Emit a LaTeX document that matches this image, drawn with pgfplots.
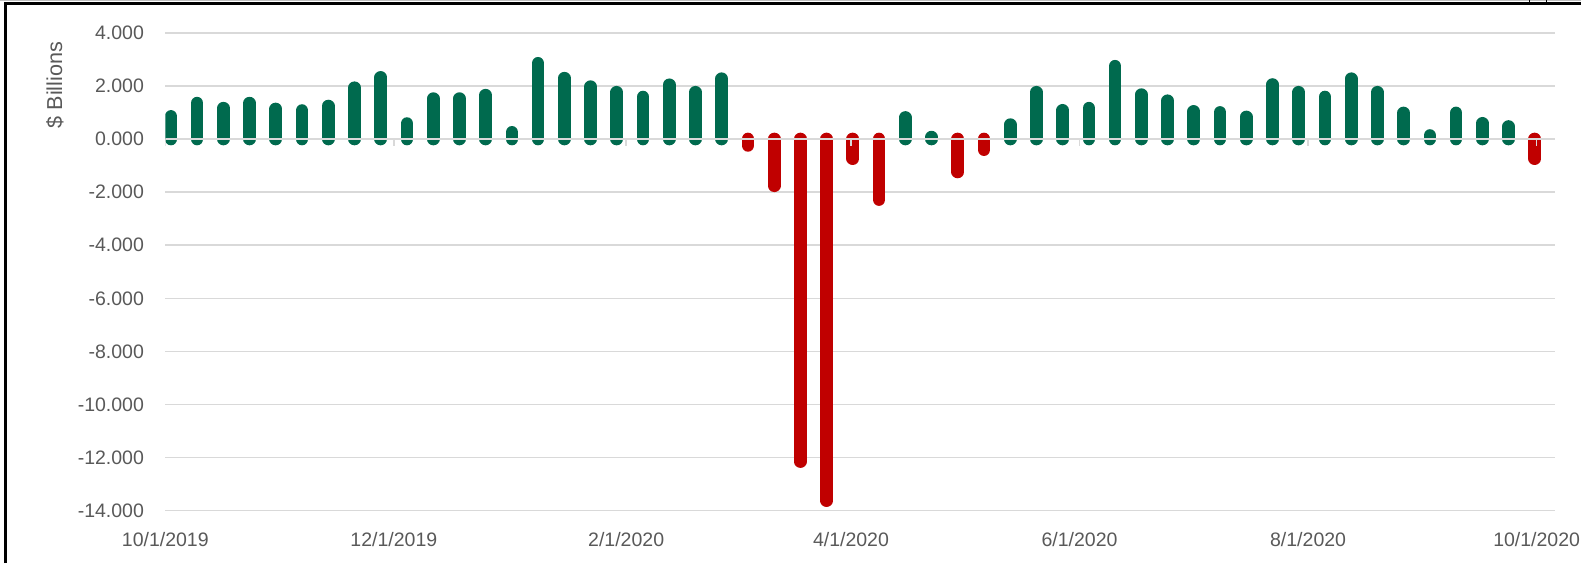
\documentclass[border=0pt]{standalone}
\usepackage{fontspec}
\setmainfont{Liberation Sans}
\usepackage{pgfplots}
\pgfplotsset{compat=1.18}
\definecolor{barGreen}{HTML}{006A4E}
\definecolor{barRed}{HTML}{C00000}
\definecolor{gridGray}{HTML}{D9D9D9}
\definecolor{textGray}{HTML}{595959}
\begin{document}
\begin{tikzpicture}[x=1pt,y=1pt]
\useasboundingbox (0,0) rectangle (790.5,281.5);
\draw[gray!50, line width=0.4pt] (0,281.1) -- (790.5,281.1);
\draw[black, line width=1.15pt] (2.75,0) -- (2.75,279.75) -- (790.5,279.75);
\draw[black, line width=0.8pt] (764.75,281.5) -- (764.75,279.75);
\draw[black, line width=0.8pt] (773.25,281.5) -- (773.25,279.75);
\begin{axis}[
  at={(82.65pt,26.15pt)}, anchor=south west,
  scale only axis, width=694.85pt, height=238.95pt,
  xmin=0, xmax=370.9, ymin=-14, ymax=4,
  axis line style={draw=none},
  major tick length=0pt,
  ymajorgrids, major grid style={gridGray, line width=0.75pt},
  ytick={-14,-12,-10,-8,-6,-4,-2,0,2,4},
  yticklabels={-14.000,-12.000,-10.000,-8.000,-6.000,-4.000,-2.000,0.000,2.000,4.000},
  xtick={0,61,123,183,244,305,366},
  xticklabels={10/1/2019,12/1/2019,2/1/2020,4/1/2020,6/1/2020,8/1/2020,10/1/2020},
  tick label style={font=\fontsize{9.75}{11}\selectfont, text=textGray},
  yticklabel style={anchor=east, inner sep=0pt, xshift=-10.5pt},
  xticklabel style={anchor=north, inner sep=0pt, yshift=-10.6pt},
  ylabel={\$ Billions},
  every axis y label/.style={at={(axis description cs:-0.0794,0.8908)}, rotate=90, anchor=center, font=\fontsize{10.8}{12}\selectfont, text=textGray},
]
\addplot[ycomb, barGreen, line width=6.35pt, line cap=round] coordinates {
(1.5,0.85) (8.5,1.35) (15.5,1.16) (22.5,1.35) (29.5,1.13) (36.5,1.07) (43.5,1.24) (50.5,1.93) (57.5,2.32) (64.5,0.58)
(71.5,1.52) (78.5,1.52) (85.5,1.65) (92.5,0.25) (99.5,2.85) (106.5,2.29) (113.5,1.97) (120.5,1.76) (127.5,1.58) (134.5,2.04)
(141.5,1.76) (148.5,2.27) (197.5,0.81) (204.5,0.07) (225.5,0.54) (232.5,1.76) (239.5,1.08) (246.5,1.16) (253.5,2.74) (260.5,1.67)
(267.5,1.44) (274.5,1.04) (281.5,1.00) (288.5,0.83) (295.5,2.05) (302.5,1.76) (309.5,1.58) (316.5,2.27) (323.5,1.76) (330.5,0.98)
(337.5,0.13) (344.5,0.98) (351.5,0.59) (358.5,0.47)
};
\addplot[ycomb, barRed, line width=6.35pt, line cap=round] coordinates {
(155.5,-0.24) (162.5,-1.76) (169.5,-12.15) (176.5,-13.62) (183.5,-0.74) (190.5,-2.28) (211.5,-1.24) (218.5,-0.40) (365.5,-0.74)
};
\addplot[gridGray, line width=0.75pt] coordinates {(0,0) (370.9,0)};
\addplot[ycomb, gridGray, line width=0.75pt] coordinates {(0,-0.26) (61,-0.26) (123,-0.26) (183,-0.26) (244,-0.26) (305,-0.26) (366,-0.26)};
\end{axis}
\end{tikzpicture}
\end{document}
